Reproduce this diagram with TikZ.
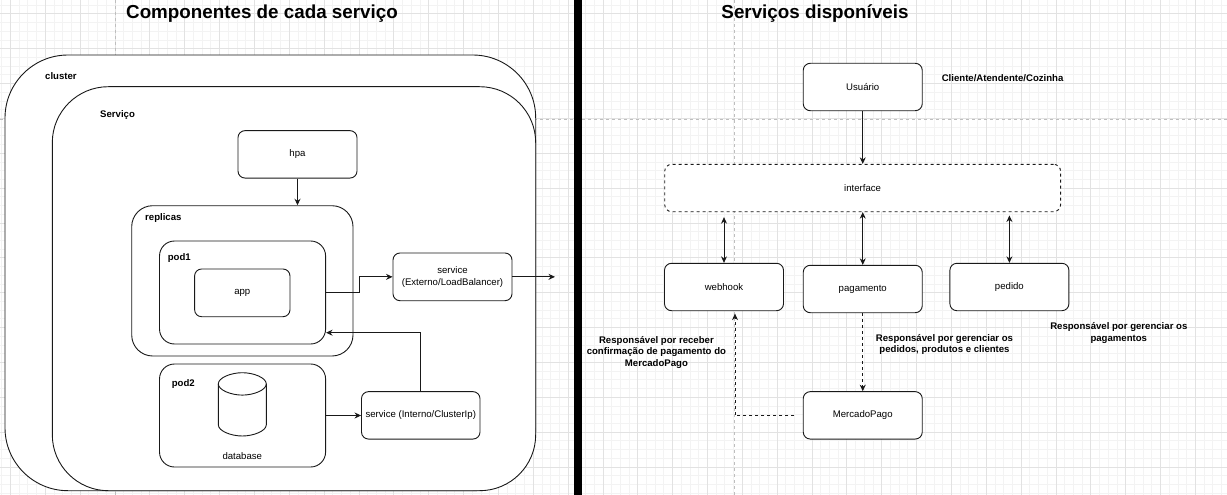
\documentclass[tikz,border=0pt]{standalone}
\usepackage{fontspec}
\setmainfont{Liberation Sans}
\usetikzlibrary{arrows.meta}
\newcommand\myreg{\fontsize{9.6}{11.5}\selectfont}
\newcommand\mybold{\fontsize{9.6}{11.5}\selectfont\bfseries}
\definecolor{gmin}{RGB}{243,243,243}
\definecolor{gmaj}{RGB}{226,226,226}
\definecolor{gpage}{RGB}{190,190,190}
\definecolor{strk}{RGB}{25,25,25}
\begin{document}
\begin{tikzpicture}[x=1pt,y=-1pt,
  box/.style={draw=strk, line width=0.9pt, fill=white, rounded corners=7pt, inner sep=0pt, minimum width=119pt, minimum height=47.4pt, font=\myreg, align=center},
  cont/.style={draw=strk, line width=0.9pt, fill=white, inner sep=0pt},
  lbl/.style={font=\mybold, anchor=west, inner sep=0pt},
  desc/.style={font=\mybold, align=center, inner sep=0pt},
  ttl/.style={font=\fontsize{18.8}{22}\selectfont\bfseries, inner sep=0pt, anchor=base},
  conn/.style={draw=strk, line width=0.9pt, -{Stealth[length=6.5pt,width=6pt]}},
  dconn/.style={conn, dash pattern=on 3pt off 3pt},
  biconn/.style={draw=strk, line width=0.9pt, {Stealth[length=6.5pt,width=6pt]}-{Stealth[length=6.5pt,width=6pt]}},
  gridmin/.style={draw=gmin, line width=1pt},
  gridmaj/.style={draw=gmaj, line width=1pt},
  pagebreak/.style={draw=gpage, line width=1pt, dash pattern=on 3pt off 3pt},
]
\useasboundingbox (0,0) rectangle (1227,495);
\fill[white] (0,0) rectangle (1227,495);
% grid
\begin{scope}
\clip (0,0) rectangle (1227,495);
\foreach \i in {-1,...,140} \draw[gridmin] ({10.55+\i*8.7125},0) -- ({10.55+\i*8.7125},495);
\foreach \j in {-1,...,56} \draw[gridmin] (0,{14+\j*8.7125}) -- (1227,{14+\j*8.7125});
\foreach \i in {0,...,35} \draw[gridmaj] ({10.55+\i*34.85},0) -- ({10.55+\i*34.85},495);
\foreach \j in {0,...,14} \draw[gridmaj] (0,{14+\j*34.85}) -- (1227,{14+\j*34.85});
\draw[pagebreak] (115,0) -- (115,495);
\draw[pagebreak] (734,0) -- (734,495);
\draw[pagebreak] (0,119) -- (1227,119);
\end{scope}

% ---------- left panel ----------
\node[ttl] (t1) at (262,18.4) {Componentes de cada serviço};
\node[cont, rounded corners=63pt, minimum width=530.7pt, minimum height=435.7pt] (cluster) at (270.35,272.85) {};
\node[lbl] (clusterlbl) at (45,76) {cluster};
\node[cont, rounded corners=56pt, minimum width=483.4pt, minimum height=404pt] (serv) at (294,288.7) {};
\node[lbl] (servlbl) at (100,115) {Serviço};
\node[box] (hpa) at (297.5,154.35) {hpa};
\node[cont, rounded corners=21pt, minimum width=221.3pt, minimum height=150.3pt] (replicas) at (242.35,280.85) {};
\node[lbl] (repllbl) at (145,218) {replicas};
\node[cont, rounded corners=15pt, minimum width=166.1pt, minimum height=103pt] (pod1) at (242.55,292.5) {};
\node[lbl] (pod1lbl) at (167.6,258) {pod1};
\node[box, minimum width=95.4pt, minimum height=47.7pt] (app) at (242.3,292.85) {app};
\node[box, minimum height=47.7pt] (svcext) at (452.5,276.85) {service\\(Externo/LoadBalancer)};
\node[cont, rounded corners=15pt, minimum width=166.1pt, minimum height=103pt] (pod2) at (242.55,415.5) {};
\node[lbl] (pod2lbl) at (171.6,383.7) {pod2};
% database cylinder
\filldraw[draw=strk, fill=white, line width=0.9pt]
  (218.3,383.9) -- (218.3,424.8)
  .. controls (218.3,430.99) and (231.05,436) .. (242.3,436)
  .. controls (253.55,436) and (266.3,430.99) .. (266.3,424.8)
  -- (266.3,383.9)
  .. controls (266.3,377.71) and (253.55,372.7) .. (242.3,372.7)
  .. controls (231.05,372.7) and (218.3,377.71) .. (218.3,383.9) -- cycle;
\draw[draw=strk, line width=0.9pt]
  (218.3,383.9) .. controls (218.3,390.09) and (231.05,395.1) .. (242.3,395.1)
  .. controls (253.55,395.1) and (266.3,390.09) .. (266.3,383.9);
\node[font=\myreg, inner sep=0pt] (dblbl) at (242.3,456) {database};
\node[box, minimum width=118.5pt] (svcint) at (420.75,415.35) {service (Interno/ClusterIp)};
\coordinate (outp) at (555,276.85);

\draw[conn] (hpa.south) -- (hpa.south |- replicas.north);
\draw[conn] (pod1.east) -- ++(33.4,0) |- (svcext.west);
\draw[conn] (svcext.east) -- (outp);
\draw[conn] (pod2.east) -- (pod2.east -| svcint.west);
\draw[conn] (svcint.north) |- (pod1.east |- 0,332.7);

% separator bar
\fill[black] (573.5,0) rectangle (581.5,495);

% ---------- right panel ----------
\node[ttl] (t2) at (815,18.4) {Serviços disponíveis};
\node[box] (user) at (862.75,87) {Usuário};
\node[lbl] (roles) at (941.6,77.7) {Cliente/Atendente/Cozinha};
\node[box, dash pattern=on 3pt off 3pt, minimum width=395.9pt] (iface) at (862.65,188) {interface};
\node[box] (webhook) at (724,287) {webhook};
\node[box] (pag) at (862.75,289) {pagamento};
\node[box] (pedido) at (1009.4,287) {pedido};
\node[box] (mp) at (862.75,415.35) {MercadoPago};
\node[desc] (n1) at (656.4,352.4) {Responsável por receber\\confirmação de pagamento do\\MercadoPago};
\node[desc] (n2) at (944.5,344.3) {Responsável por gerenciar os\\pedidos, produtos e clientes};
\node[desc] (n3) at (1118.8,332.8) {Responsável por gerenciar os\\pagamentos};

\draw[conn] (user.south) -- (user.south |- iface.north);
\draw[biconn, shorten >=5pt] (webhook.north) -- (webhook.north |- iface.south);
\draw[biconn] (pag.north) -- (pag.north |- iface.south);
\draw[biconn, shorten >=3.3pt] (pedido.north) -- (pedido.north |- iface.south);
\draw[dconn] (pag.south) -- (pag.south |- mp.north);
\draw[dconn, shorten <=8.5pt, shorten >=2.5pt] (mp.west) -| ([xshift=11pt]webhook.south);
\end{tikzpicture}
\end{document}
